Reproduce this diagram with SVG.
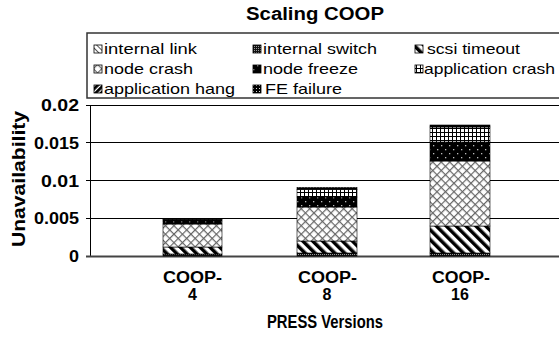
<svg xmlns="http://www.w3.org/2000/svg" width="559" height="338" viewBox="0 0 559 338">
<style>
.t{font-family:"Liberation Sans",Arial,sans-serif;fill:#000}
.b{font-weight:bold}
.lg{font-size:15px}
.ax{font-size:16px;font-weight:bold}
.big{font-size:18px}
.seg{stroke:#000;stroke-width:0.6}
.ico{stroke:#000;stroke-width:0.8}
.grid{stroke:#000;stroke-width:1}
</style>
<defs>
<pattern id="pLink" width="4" height="4" patternUnits="userSpaceOnUse" patternTransform="rotate(-45)">
<rect width="4" height="4" fill="#fff"/><rect width="1" height="4" fill="#555"/>
</pattern>
<pattern id="pSwitch" width="2" height="2" patternUnits="userSpaceOnUse">
<rect width="2" height="2" fill="#111"/><rect width="1" height="1" fill="#999"/>
</pattern>
<pattern id="pScsi" width="7" height="7" patternUnits="userSpaceOnUse" patternTransform="rotate(-45)">
<rect width="7" height="7" fill="#fff"/><rect width="3.5" height="7" fill="#000"/>
</pattern>
<pattern id="pCrash" width="6" height="6" patternUnits="userSpaceOnUse" patternTransform="rotate(45)">
<rect width="6" height="6" fill="#fff"/><rect width="1.2" height="6" fill="#666"/><rect width="6" height="1.2" fill="#666"/>
</pattern>
<pattern id="pFreeze" width="8" height="8" patternUnits="userSpaceOnUse">
<rect width="8" height="8" fill="#000"/><rect x="1" y="1" width="1.3" height="1.3" fill="#bbb"/><rect x="5" y="5" width="1.3" height="1.3" fill="#bbb"/>
</pattern>
<pattern id="pApp" width="4" height="4" patternUnits="userSpaceOnUse">
<rect width="4" height="4" fill="#fff"/><rect width="1" height="4" fill="#000"/><rect width="4" height="1" fill="#000"/>
</pattern>
<pattern id="pHang" width="4" height="4" patternUnits="userSpaceOnUse" patternTransform="rotate(45)">
<rect width="4" height="4" fill="#fff"/><rect width="2.8" height="4" fill="#000"/>
</pattern>
<pattern id="pFE" width="3" height="3" patternUnits="userSpaceOnUse">
<rect width="3" height="3" fill="#000"/><rect x="1" y="1" width="1" height="1" fill="#ddd"/>
</pattern>
</defs>

<g id="title"><text class="t b big" x="246" y="20" textLength="138" lengthAdjust="spacingAndGlyphs">Scaling COOP</text></g>

<g id="legend">
<rect x="87" y="33" width="480" height="65" fill="#fff" stroke="#333" stroke-width="1.5"/>
<rect class="ico" x="94" y="45" width="8" height="8" fill="url(#pLink)"/>
<text class="t lg" x="104" y="54" textLength="93" lengthAdjust="spacingAndGlyphs">internal link</text>
<rect class="ico" x="253" y="45" width="8" height="8" fill="url(#pSwitch)"/>
<text class="t lg" x="263" y="54" textLength="114" lengthAdjust="spacingAndGlyphs">internal switch</text>
<rect class="ico" x="415" y="45" width="8" height="8" fill="url(#pScsi)"/>
<text class="t lg" x="427" y="54" textLength="93" lengthAdjust="spacingAndGlyphs">scsi timeout</text>
<rect class="ico" x="94" y="65" width="8" height="8" fill="url(#pCrash)"/>
<text class="t lg" x="104" y="74" textLength="89" lengthAdjust="spacingAndGlyphs">node crash</text>
<rect class="ico" x="253" y="65" width="8" height="8" fill="url(#pFreeze)"/>
<text class="t lg" x="263" y="74" textLength="95" lengthAdjust="spacingAndGlyphs">node freeze</text>
<rect class="ico" x="415" y="65" width="8" height="8" fill="url(#pApp)"/>
<text class="t lg" x="424" y="74" textLength="131" lengthAdjust="spacingAndGlyphs">application crash</text>
<rect class="ico" x="94" y="85" width="8" height="8" fill="url(#pHang)"/>
<text class="t lg" x="104" y="94" textLength="131" lengthAdjust="spacingAndGlyphs">application hang</text>
<rect class="ico" x="253" y="85" width="8" height="8" fill="url(#pFE)"/>
<text class="t lg" x="265" y="94" textLength="77" lengthAdjust="spacingAndGlyphs">FE failure</text>
</g>

<g id="axes">
<line class="grid" x1="86" y1="105.5" x2="559" y2="105.5"/>
<line class="grid" x1="86" y1="142.5" x2="559" y2="142.5"/>
<line class="grid" x1="86" y1="180.5" x2="559" y2="180.5"/>
<line class="grid" x1="86" y1="218.5" x2="559" y2="218.5"/>
<line x1="90.5" y1="105" x2="90.5" y2="256" stroke="#000" stroke-width="1"/>
<line x1="86" y1="256.5" x2="559" y2="256.5" stroke="#444" stroke-width="2"/>
<text class="t ax" x="79" y="111" text-anchor="end" textLength="38" lengthAdjust="spacingAndGlyphs">0.02</text>
<text class="t ax" x="79" y="149" text-anchor="end" textLength="45" lengthAdjust="spacingAndGlyphs">0.015</text>
<text class="t ax" x="79" y="187" text-anchor="end" textLength="38" lengthAdjust="spacingAndGlyphs">0.01</text>
<text class="t ax" x="79" y="224" text-anchor="end" textLength="45" lengthAdjust="spacingAndGlyphs">0.005</text>
<text class="t ax" x="79" y="262" text-anchor="end" textLength="10" lengthAdjust="spacingAndGlyphs">0</text>
<text class="t ax big" transform="translate(25,179) rotate(-90)" text-anchor="middle" textLength="136" lengthAdjust="spacingAndGlyphs">Unavailability</text>
<text class="t ax big" x="267" y="328" textLength="116" lengthAdjust="spacingAndGlyphs">PRESS Versions</text>
</g>

<g id="bar-coop4">
<rect class="seg" x="163" y="254" width="59" height="2" fill="url(#pSwitch)"/>
<rect class="seg" x="163" y="247" width="59" height="7" fill="url(#pScsi)"/>
<rect class="seg" x="163" y="224" width="59" height="23" fill="url(#pCrash)"/>
<rect class="seg" x="163" y="221" width="59" height="3" fill="url(#pFreeze)"/>
<rect class="seg" x="163" y="219.5" width="59" height="1.5" fill="url(#pApp)"/>
<rect class="seg" x="163" y="218.5" width="59" height="1" fill="url(#pFE)"/>
<text class="t ax" x="163" y="283" textLength="59" lengthAdjust="spacingAndGlyphs">COOP-</text>
<text class="t ax" x="192.5" y="300" text-anchor="middle">4</text>
</g>

<g id="bar-coop8">
<rect class="seg" x="297" y="253" width="60" height="3" fill="url(#pSwitch)"/>
<rect class="seg" x="297" y="241" width="60" height="12" fill="url(#pScsi)"/>
<rect class="seg" x="297" y="207" width="60" height="34" fill="url(#pCrash)"/>
<rect class="seg" x="297" y="197" width="60" height="10" fill="url(#pFreeze)"/>
<rect class="seg" x="297" y="189.5" width="60" height="7.5" fill="url(#pApp)"/>
<rect class="seg" x="297" y="187.5" width="60" height="2" fill="url(#pFE)"/>
<text class="t ax" x="298" y="283" textLength="59" lengthAdjust="spacingAndGlyphs">COOP-</text>
<text class="t ax" x="327" y="300" text-anchor="middle">8</text>
</g>

<g id="bar-coop16">
<rect class="seg" x="430" y="253" width="60" height="3" fill="url(#pSwitch)"/>
<rect class="seg" x="430" y="226" width="60" height="27" fill="url(#pScsi)"/>
<rect class="seg" x="430" y="161" width="60" height="65" fill="url(#pCrash)"/>
<rect class="seg" x="430" y="142" width="60" height="19" fill="url(#pFreeze)"/>
<rect class="seg" x="430" y="127" width="60" height="15" fill="url(#pApp)"/>
<rect class="seg" x="430" y="125" width="60" height="2" fill="url(#pFE)"/>
<text class="t ax" x="432" y="283" textLength="58" lengthAdjust="spacingAndGlyphs">COOP-</text>
<text class="t ax" x="460" y="300" text-anchor="middle">16</text>
</g>
</svg>
